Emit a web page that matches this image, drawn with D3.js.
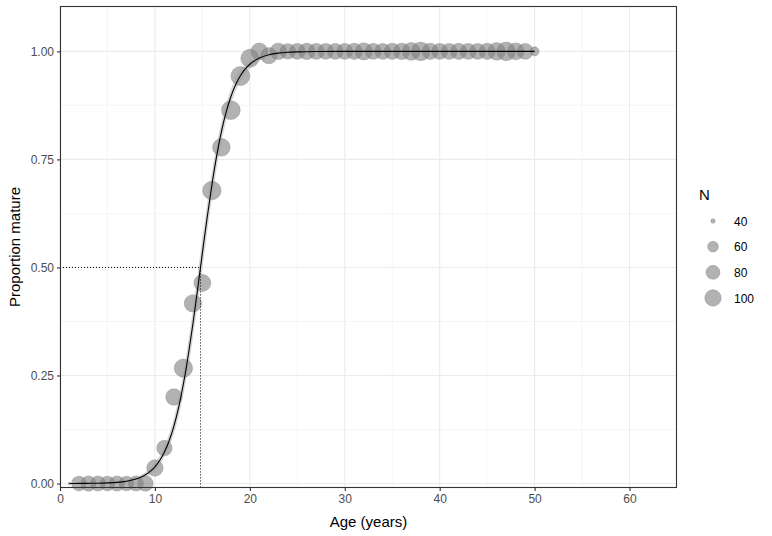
<!DOCTYPE html>
<html>
<head>
<meta charset="utf-8">
<script src="https://cdn.jsdelivr.net/npm/d3@7"></script>
<style>
  html, body { margin: 0; padding: 0; background: #fff; }
  svg { display: block; font-family: "Liberation Sans", Arial, sans-serif; }
</style>
</head>
<body>
<svg id="chart" width="772" height="536"></svg>
<script>
// ---- Data ----
const ages = d3.range(1, 51);
const propMature = [
  0.000, 0.000, 0.000, 0.000, 0.000, 0.000, 0.000, 0.000, 0.000, 0.036,
  0.082, 0.200, 0.267, 0.417, 0.464, 0.678, 0.778, 0.864, 0.943, 0.984,
  1.000, 0.990, 1.000, 1.000, 1.000, 1.000, 1.000, 1.000, 1.000, 1.000,
  1.000, 1.000, 1.000, 1.000, 1.000, 1.000, 1.000, 1.000, 1.000, 1.000,
  1.000, 1.000, 1.000, 1.000, 1.000, 1.000, 1.000, 1.000, 1.000, 1.000
];
const sampleN = [
  39, 86, 90, 88, 86, 89, 85, 88, 92, 100,
  92, 100, 118, 108, 105, 120, 111, 122, 124, 115,
  102, 98, 100, 92, 95, 100, 96, 94, 95, 96,
  98, 106, 96, 95, 97, 100, 112, 120, 98, 96,
  95, 97, 96, 95, 98, 110, 120, 104, 96, 52
];
// fitted maturity ogive with its confidence band
const fitAge = [1,2,3,4,5,6,7,7.5,8,8.5,9,9.5,10,10.5,11,11.5,12,12.5,13,13.5,14,14.5,15,15.5,16,16.5,17,17.5,18,18.5,19,19.5,20,21,22,23,24,25,27,30,35,40,45,50];
const fitP   = [0.0001,0.0002,0.0004,0.0007,0.0014,0.0027,0.0054,0.0075,0.0104,0.0145,0.0201,0.0279,0.0386,0.0531,0.0727,0.0988,0.1328,0.1764,0.2303,0.2951,0.3691,0.4499,0.5334,0.6151,0.6908,0.7575,0.8137,0.8592,0.8951,0.9226,0.9434,0.9589,0.9702,0.9845,0.9920,0.9959,0.9979,0.9989,0.9997,1.0000,1.0000,1.0000,1.0000,1.0000];
const fitLo  = [0.0000,0.0001,0.0002,0.0004,0.0008,0.0017,0.0036,0.0052,0.0075,0.0108,0.0155,0.0221,0.0313,0.0440,0.0614,0.0848,0.1158,0.1558,0.2058,0.2664,0.3365,0.4150,0.4980,0.5810,0.6590,0.7290,0.7890,0.8380,0.8770,0.9070,0.9300,0.9470,0.9600,0.9780,0.9880,0.9935,0.9965,0.9981,0.9994,0.9999,1.0000,1.0000,1.0000,1.0000];
const fitHi  = [0.0003,0.0004,0.0007,0.0012,0.0023,0.0042,0.0080,0.0107,0.0144,0.0194,0.0260,0.0351,0.0474,0.0638,0.0857,0.1145,0.1516,0.1985,0.2566,0.3256,0.4030,0.4850,0.5680,0.6480,0.7210,0.7840,0.8360,0.8790,0.9120,0.9370,0.9550,0.9690,0.9780,0.9895,0.9950,0.9978,0.9990,0.9995,0.9999,1.0000,1.0000,1.0000,1.0000,1.0000];
const age50 = 14.8;   // age at 50% maturity
const xTicks = [0, 10, 20, 30, 40, 50, 60];
const xMinor = [5, 15, 25, 35, 45, 55];
const yTicks = [0, 0.25, 0.5, 0.75, 1.0];
const yMinor = [0.125, 0.375, 0.625, 0.875];
const legendN = [40, 60, 80, 100];
const nLimits = [39, 125];

// ---- Layout ----
const svg = d3.select("#chart");
const P = { left: 60, right: 677, top: 6, bottom: 488 };
const x = d3.scaleLinear().domain([0, 65]).range([P.left, P.right]);
const y = d3.scaleLinear().domain([-0.0104, 1.105]).range([P.bottom, P.top]);
// ggplot-like area scale: rescale N, sqrt, map to diameter range
const nRescale = d3.scaleLinear().domain(nLimits).range([0, 1]).clamp(true);
const diam = d3.scaleLinear().domain([0, 1]).range([2.7, 19]);
const radius = n => diam(Math.sqrt(nRescale(n))) / 2;

const grid = svg.append("g");
grid.selectAll(".xm").data(xMinor).enter().append("line")
  .attr("x1", d => x(d)).attr("x2", d => x(d)).attr("y1", P.top).attr("y2", P.bottom)
  .attr("stroke", "#F0F0F0").attr("stroke-width", 0.6);
grid.selectAll(".ym").data(yMinor).enter().append("line")
  .attr("y1", d => y(d)).attr("y2", d => y(d)).attr("x1", P.left).attr("x2", P.right)
  .attr("stroke", "#F0F0F0").attr("stroke-width", 0.6);
grid.selectAll(".xM").data(xTicks).enter().append("line")
  .attr("x1", d => x(d)).attr("x2", d => x(d)).attr("y1", P.top).attr("y2", P.bottom)
  .attr("stroke", "#EBEBEB").attr("stroke-width", 1.1);
grid.selectAll(".yM").data(yTicks).enter().append("line")
  .attr("y1", d => y(d)).attr("y2", d => y(d)).attr("x1", P.left).attr("x2", P.right)
  .attr("stroke", "#EBEBEB").attr("stroke-width", 1.1);

// points
const pts = ages.map((a, i) => ({ a, p: propMature[i], n: sampleN[i] }));
svg.append("g").selectAll("circle").data(pts).enter().append("circle")
  .attr("cx", d => x(d.a)).attr("cy", d => y(d.p)).attr("r", d => radius(d.n))
  .attr("fill", "#7F7F7F").attr("fill-opacity", 0.6)
  .attr("stroke", "#7F7F7F").attr("stroke-opacity", 0.6).attr("stroke-width", 0.6);

// ribbon + fitted line
const fit = fitAge.map((a, i) => ({ a, p: fitP[i], lo: fitLo[i], hi: fitHi[i] }));
svg.append("path").datum(fit)
  .attr("d", d3.area().x(d => x(d.a)).y0(d => y(d.lo)).y1(d => y(d.hi)).curve(d3.curveMonotoneX))
  .attr("fill", "#999999").attr("fill-opacity", 0.4);
svg.append("path").datum(fit)
  .attr("d", d3.line().x(d => x(d.a)).y(d => y(d.p)).curve(d3.curveMonotoneX))
  .attr("fill", "none").attr("stroke", "#000").attr("stroke-width", 1.1);

// 50% maturity reference lines
svg.append("line").attr("x1", x(0)).attr("x2", x(age50)).attr("y1", y(0.5)).attr("y2", y(0.5))
  .attr("stroke", "#000").attr("stroke-width", 1).attr("stroke-dasharray", "1,2");
svg.append("line").attr("x1", x(age50)).attr("x2", x(age50)).attr("y1", y(0.5)).attr("y2", P.bottom)
  .attr("stroke", "#000").attr("stroke-width", 1).attr("stroke-dasharray", "1,2");

// panel border
svg.append("rect").attr("x", P.left + 0.5).attr("y", P.top + 0.5)
  .attr("width", P.right - P.left - 1).attr("height", P.bottom - P.top - 1)
  .attr("fill", "none").attr("stroke", "#333333").attr("stroke-width", 1.1);

// axes
const xAxis = svg.append("g").attr("transform", `translate(0,${P.bottom})`)
  .call(d3.axisBottom(x).tickValues(xTicks).tickFormat(d3.format("d")).tickSize(3).tickPadding(3));
const yAxis = svg.append("g").attr("transform", `translate(${P.left},0)`)
  .call(d3.axisLeft(y).tickValues(yTicks).tickFormat(d3.format(".2f")).tickSize(3).tickPadding(3));
[xAxis, yAxis].forEach(g => {
  g.select(".domain").remove();
  g.selectAll(".tick line").attr("stroke", "#333333").attr("stroke-width", 1.1);
  g.selectAll(".tick text").attr("fill", "#4D4D4D").style("font-size", "12px")
    .style("font-family", "'Liberation Sans', Arial, sans-serif");
});

// axis titles
svg.append("text").attr("x", (P.left + P.right) / 2).attr("y", 527)
  .attr("text-anchor", "middle").style("font-size", "15px").attr("fill", "#000")
  .text("Age (years)");
svg.append("text").attr("transform", `translate(20,${(P.top + P.bottom) / 2}) rotate(-90)`)
  .attr("text-anchor", "middle").style("font-size", "15px").attr("fill", "#000")
  .text("Proportion mature");

// legend
const lg = svg.append("g");
lg.append("text").attr("x", 699).attr("y", 200).style("font-size", "15px").attr("fill", "#000").text("N");
const ly = d3.scalePoint().domain(legendN).range([221, 298]);
lg.selectAll("circle").data(legendN).enter().append("circle")
  .attr("cx", 713).attr("cy", d => ly(d)).attr("r", d => radius(d))
  .attr("fill", "#7F7F7F").attr("fill-opacity", 0.6)
  .attr("stroke", "#7F7F7F").attr("stroke-opacity", 0.6).attr("stroke-width", 0.6);
lg.selectAll(".lt").data(legendN).enter().append("text")
  .attr("x", 734).attr("y", d => ly(d) + 4.5).style("font-size", "12px").attr("fill", "#000")
  .text(d => d);
</script>
</body>
</html>
